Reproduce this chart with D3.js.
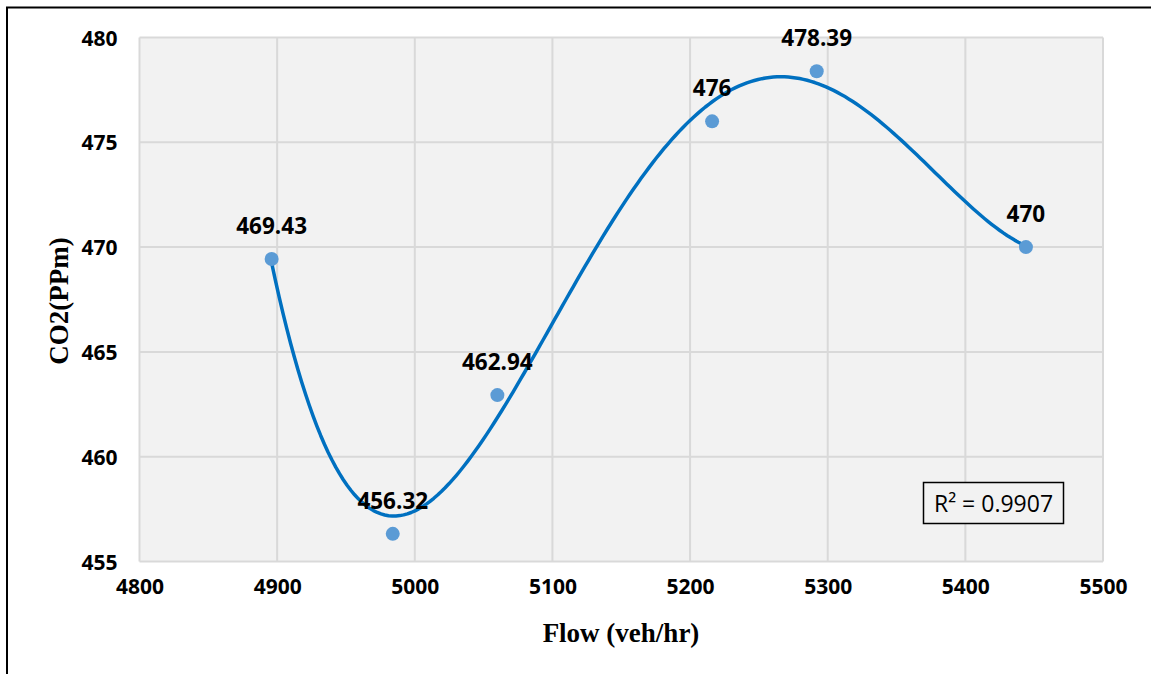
<!DOCTYPE html>
<html>
<head>
<meta charset="utf-8">
<script src="https://cdn.jsdelivr.net/npm/d3@7"></script>
<style>
  html, body { margin: 0; padding: 0; background: #ffffff; }
  svg { display: block; }
</style>
</head>
<body>
<svg id="chart" width="1151" height="674"></svg>
<script>
// Measured traffic flow against CO2 concentration
const flow = [4896, 4984, 5060, 5216, 5292, 5444];
const co2 = [469.43, 456.32, 462.94, 476, 478.39, 470];
const pointLabels = ["469.43", "456.32", "462.94", "476", "478.39", "470"];
const xTicks = [4800, 4900, 5000, 5100, 5200, 5300, 5400, 5500];
const yTicks = [455, 460, 465, 470, 475, 480];
const rSquaredText = "R\u00B2 = 0.9907";

const svg = d3.select("#chart");
const plot = { left: 139.5, top: 37.5, right: 1103, bottom: 561.5 };

const x = d3.scaleLinear().domain([4800, 5500]).range([plot.left, plot.right]);
const y = d3.scaleLinear().domain([455, 480]).range([plot.bottom, plot.top]);

// Outer frame (only the top and left edges fall inside the view)
svg.append("rect")
  .attr("x", 7).attr("y", 7.5)
  .attr("width", 1200).attr("height", 700)
  .attr("fill", "none").attr("stroke", "#000").attr("stroke-width", 2);

// Plot background
svg.append("rect")
  .attr("x", plot.left).attr("y", plot.top)
  .attr("width", plot.right - plot.left).attr("height", plot.bottom - plot.top)
  .attr("fill", "#f2f2f2");

// Gridlines
const grid = svg.append("g").attr("stroke", "#d9d9d9").attr("stroke-width", 2);
grid.selectAll(".gx").data(xTicks).join("line")
  .attr("x1", d => x(d)).attr("x2", d => x(d))
  .attr("y1", plot.top).attr("y2", plot.bottom);
grid.selectAll(".gy").data(yTicks).join("line")
  .attr("x1", plot.left).attr("x2", plot.right)
  .attr("y1", d => y(d)).attr("y2", d => y(d));

// Axes (labels only, no domain or tick marks)
const tickFont = "'Open Sans', sans-serif";
const xAxis = svg.append("g")
  .attr("transform", `translate(0,${plot.bottom})`)
  .call(d3.axisBottom(x).tickValues(xTicks).tickSize(0).tickPadding(0).tickFormat(d3.format("d")));
xAxis.select(".domain").remove();
xAxis.selectAll("text")
  .attr("y", 32).attr("dy", null)
  .attr("font-family", tickFont).attr("font-weight", "bold")
  .attr("font-size", 21).attr("fill", "#000");

const yAxis = svg.append("g")
  .attr("transform", `translate(${plot.left},0)`)
  .call(d3.axisLeft(y).tickValues(yTicks).tickSize(0).tickPadding(0).tickFormat(d3.format("d")));
yAxis.select(".domain").remove();
yAxis.selectAll("text")
  .attr("x", -22).attr("dy", "0.36em")
  .attr("font-family", tickFont).attr("font-weight", "bold")
  .attr("font-size", 21).attr("fill", "#000");

// Axis titles
svg.append("text")
  .attr("x", 621).attr("y", 642)
  .attr("text-anchor", "middle")
  .attr("font-family", "'Liberation Serif', 'Times New Roman', serif")
  .attr("font-weight", "bold").attr("font-size", 27).attr("fill", "#000")
  .text("Flow (veh/hr)");

svg.append("text")
  .attr("transform", "translate(68,301) rotate(-90)")
  .attr("text-anchor", "middle")
  .attr("font-family", "'Liberation Serif', 'Times New Roman', serif")
  .attr("font-weight", "bold").attr("font-size", 27).attr("fill", "#000")
  .text("CO2(PPm)");

// Fourth-order least-squares trendline through the measurements
const degree = 4;
const xc = d3.mean(flow), xs = 300;
function polyFit(xv, yv, n) {
  const m = n + 1;
  const A = Array.from({ length: m }, () => new Array(m + 1).fill(0));
  xv.forEach((xi, k) => {
    const t = (xi - xc) / xs;
    for (let i = 0; i < m; i++) {
      for (let j = 0; j < m; j++) A[i][j] += Math.pow(t, i + j);
      A[i][m] += Math.pow(t, i) * yv[k];
    }
  });
  for (let c = 0; c < m; c++) {
    let p = c;
    for (let r = c + 1; r < m; r++) if (Math.abs(A[r][c]) > Math.abs(A[p][c])) p = r;
    [A[c], A[p]] = [A[p], A[c]];
    for (let r = 0; r < m; r++) {
      if (r === c) continue;
      const f = A[r][c] / A[c][c];
      for (let j = c; j <= m; j++) A[r][j] -= f * A[c][j];
    }
  }
  return A.map((row, i) => row[m] / row[i]);
}
const coef = polyFit(flow, co2, degree);
const evalPoly = xv => {
  const t = (xv - xc) / xs;
  return coef.reduce((s, c, i) => s + c * Math.pow(t, i), 0);
};
const [fx0, fx1] = d3.extent(flow);
const trend = d3.range(0, 201).map(i => {
  const xv = fx0 + (fx1 - fx0) * i / 200;
  return [xv, evalPoly(xv)];
});

svg.append("path")
  .datum(trend)
  .attr("d", d3.line().x(d => x(d[0])).y(d => y(d[1])).curve(d3.curveLinear))
  .attr("fill", "none").attr("stroke", "#0070c0")
  .attr("stroke-width", 3.5).attr("stroke-linejoin", "round").attr("stroke-linecap", "round");

// Data points
const data = flow.map((f, i) => ({ f, v: co2[i], label: pointLabels[i] }));
svg.append("g").selectAll("circle").data(data).join("circle")
  .attr("cx", d => x(d.f)).attr("cy", d => y(d.v)).attr("r", 7)
  .attr("fill", "#5b9bd5");

// Value labels
svg.append("g").selectAll("text").data(data).join("text")
  .attr("x", d => x(d.f)).attr("y", d => y(d.v) - 25)
  .attr("text-anchor", "middle")
  .attr("font-family", tickFont).attr("font-weight", "bold")
  .attr("font-size", 22.5).attr("fill", "#000")
  .text(d => d.label);

// R-squared box
const rBox = svg.append("g").attr("transform", "translate(923.5,482.5)");
rBox.append("rect")
  .attr("width", 140).attr("height", 41)
  .attr("fill", "#f2f2f2").attr("stroke", "#000").attr("stroke-width", 1.5);
rBox.append("text")
  .attr("x", 70).attr("y", 29)
  .attr("text-anchor", "middle")
  .attr("font-family", tickFont).attr("font-size", 23).attr("fill", "#000")
  .text(rSquaredText);
</script>
</body>
</html>
